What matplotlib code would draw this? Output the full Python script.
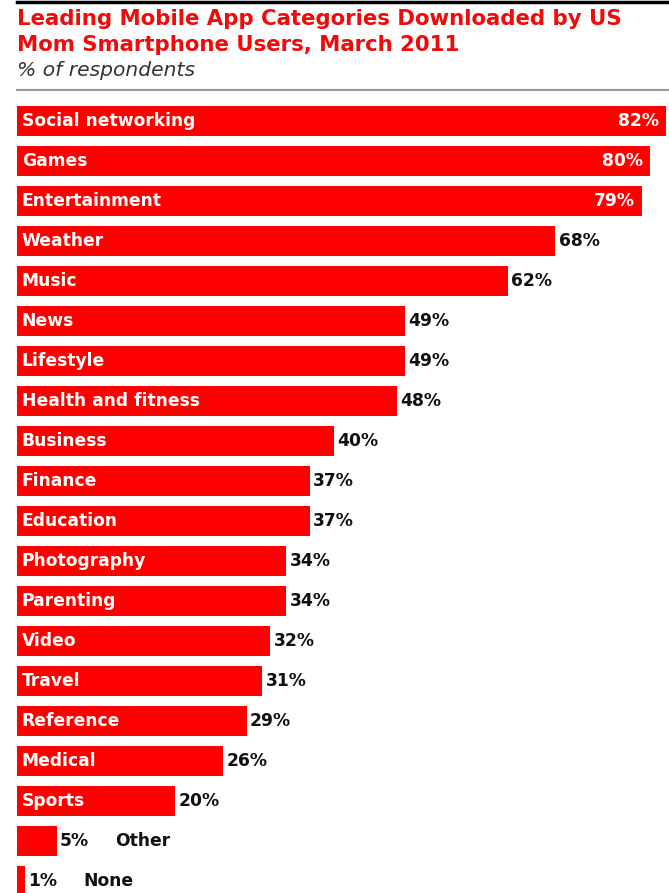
import matplotlib.pyplot as plt
from matplotlib.lines import Line2D

# data
categories = ['Social networking', 'Games', 'Entertainment', 'Weather', 'Music',
              'News', 'Lifestyle', 'Health and fitness', 'Business', 'Finance',
              'Education', 'Photography', 'Parenting', 'Video', 'Travel',
              'Reference', 'Medical', 'Sports', 'Other', 'None']
values = [82, 80, 79, 68, 62, 49, 49, 48, 40, 37, 37, 34, 34, 32, 31, 29, 26, 20, 5, 1]

W, H = 669, 893
fig = plt.figure(figsize=(W / 100, H / 100), dpi=100)
fig.patch.set_facecolor('white')

red = '#ff0000'
font = 'DejaVu Sans'
fs = 12.3

# axes placed in pixel terms: bar centres at y=121+40*i, x from 17 px
top_px = 101
bot_px = 121 + 40 * (len(values) - 1) + 20
left_px = 17
right_px = 666
ax = fig.add_axes([left_px / W, (H - bot_px) / H, (right_px - left_px) / W, (bot_px - top_px) / H])
ypos = list(range(len(values)))
ax.barh(ypos, values, height=0.75, color=red, edgecolor='none')
ax.set_xlim(0, 82)
ax.set_ylim(len(values) - 0.5, -0.5)
ax.axis('off')

for i, (cat, v) in enumerate(zip(categories, values)):
    if v >= 20:
        ax.annotate(cat, (0, i), xytext=(3.5, 0), textcoords='offset points',
                    ha='left', va='center', color='white', fontsize=fs,
                    fontweight='bold', family=font)
    if v >= 75:
        ax.annotate(f'{v}%', (v, i), xytext=(-5, 0), textcoords='offset points',
                    ha='right', va='center', color='white', fontsize=fs,
                    fontweight='bold', family=font)
    else:
        ax.annotate(f'{v}%', (v, i), xytext=(2.5, 0), textcoords='offset points',
                    ha='left', va='center', color='#111111', fontsize=fs,
                    fontweight='bold', family=font)
    if v < 20:
        ax.annotate(cat, (v, i), xytext=(42, 0), textcoords='offset points',
                    ha='left', va='center', color='#111111', fontsize=fs,
                    fontweight='bold', family=font)

# header
fig.text(17 / W, 1 - 19 / H, 'Leading Mobile App Categories Downloaded by US',
         color='#f00a0a', fontsize=15.3, fontweight='bold', family=font, va='center')
fig.text(17 / W, 1 - 45 / H, 'Mom Smartphone Users, March 2011',
         color='#f00a0a', fontsize=15.3, fontweight='bold', family=font, va='center')
fig.text(17 / W, 1 - 71 / H, '% of respondents',
         color='#333333', fontsize=14.6, fontstyle='italic', family=font, va='center')

# rules
fig.add_artist(Line2D([17 / W, 1], [1 - 1.5 / H, 1 - 1.5 / H], color='black', lw=2.5))
fig.add_artist(Line2D([17 / W, 1], [1 - 90 / H, 1 - 90 / H], color='#999999', lw=1.5))

fig.savefig('out.png', dpi=100)
